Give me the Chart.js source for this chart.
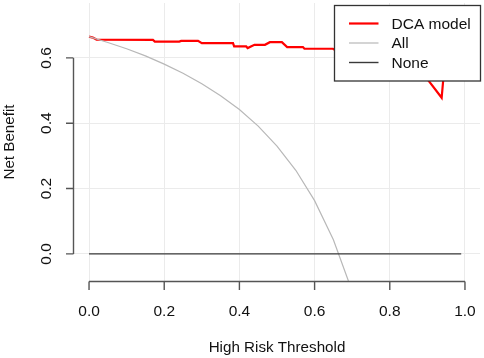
<!DOCTYPE html>
<html><head><meta charset="utf-8">
<script src="https://cdn.jsdelivr.net/npm/chart.js@4/dist/chart.umd.min.js"></script>
<style>html,body{margin:0;padding:0;background:#fff;overflow:hidden}</style>
</head><body>
<canvas id="c" width="484" height="358" style="display:block;width:484px;height:358px"></canvas>
<script>
const xTicks = [0, 0.2, 0.4, 0.6, 0.8, 1.0];
const yTicks = [0, 0.2, 0.4, 0.6];
const seriesNames = ['DCA model', 'All', 'None'];
const xTitle = 'High Risk Threshold';
const yTitle = 'Net Benefit';

const modelThreshold = [0.000, 0.010, 0.020, 0.170, 0.175, 0.240, 0.245, 0.290, 0.300, 0.310, 0.383, 0.386, 0.418, 0.422, 0.440, 0.468, 0.481, 0.513, 0.527, 0.569, 0.573, 0.649, 0.655, 0.700, 0.750, 0.800, 0.840, 0.870, 0.900, 0.938, 0.942, 0.950];
const modelNetBenefit = [0.665, 0.662, 0.656, 0.655, 0.650, 0.650, 0.652, 0.652, 0.645, 0.645, 0.645, 0.635, 0.635, 0.630, 0.640, 0.640, 0.648, 0.648, 0.633, 0.633, 0.628, 0.628, 0.624, 0.623, 0.621, 0.617, 0.605, 0.585, 0.535, 0.478, 0.530, 0.600];

const allThreshold = [0.00, 0.05, 0.10, 0.15, 0.20, 0.25, 0.30, 0.35, 0.40, 0.45, 0.50, 0.55, 0.60, 0.65, 0.69];
const allNetBenefit = [0.665, 0.647, 0.628, 0.606, 0.581, 0.553, 0.521, 0.484, 0.442, 0.391, 0.330, 0.256, 0.163, 0.043, -0.083];

const noneThreshold = [0.00, 0.99];
const noneNetBenefit = [0, 0];

const colors = ['#ff0000', '#b8b8b8', '#3a3a3a'];
const widths = [2.2, 1.2, 1.4];

function pts(xs, ys) { return xs.map((x, i) => ({x: x, y: ys[i]})); }

const FONT = '"Liberation Sans", Arial, sans-serif';
const TXT = '#111111';
const AXC = '#555555';

const rAxes = {
  id: 'rAxes',
  afterDraw(chart) {
    const ctx = chart.ctx, xs = chart.scales.x, ys = chart.scales.y, ca = chart.chartArea;
    ctx.save();
    ctx.strokeStyle = AXC; ctx.lineWidth = 1.4; ctx.lineCap = 'butt';
    // y axis
    const ax = ca.left - 0.5;
    ctx.beginPath();
    ctx.moveTo(ax, ys.getPixelForValue(yTicks[0]));
    ctx.lineTo(ax, ys.getPixelForValue(yTicks[yTicks.length - 1]));
    yTicks.forEach(v => { const p = ys.getPixelForValue(v); ctx.moveTo(ax, p); ctx.lineTo(ax - 7.5, p); });
    ctx.stroke();
    // x axis
    const ay = ca.bottom + 0.5;
    ctx.beginPath();
    ctx.moveTo(xs.getPixelForValue(xTicks[0]), ay);
    ctx.lineTo(xs.getPixelForValue(xTicks[xTicks.length - 1]), ay);
    xTicks.forEach(v => { const p = xs.getPixelForValue(v); ctx.moveTo(p, ay); ctx.lineTo(p, ay + 8.5); });
    ctx.stroke();
    // y tick labels (rotated, R style)
    ctx.fillStyle = TXT; ctx.font = '15.5px ' + FONT; ctx.textAlign = 'center'; ctx.textBaseline = 'middle';
    yTicks.forEach(v => {
      const p = ys.getPixelForValue(v);
      ctx.save(); ctx.translate(46.5, p); ctx.rotate(-Math.PI / 2); ctx.fillText(v.toFixed(1), 0, 0); ctx.restore();
    });
    // legend
    const lx = 334.5, ly = 5.5, lw = 146, lh = 75.5;
    ctx.fillStyle = '#ffffff'; ctx.fillRect(lx, ly, lw, lh);
    ctx.strokeStyle = '#333333'; ctx.lineWidth = 1.3; ctx.strokeRect(lx, ly, lw, lh);
    const rows = [23.5, 43, 62.5];
    chart.data.datasets.forEach((ds, i) => {
      ctx.strokeStyle = ds.borderColor; ctx.lineWidth = ds.borderWidth;
      ctx.beginPath(); ctx.moveTo(349, rows[i]); ctx.lineTo(378.5, rows[i]); ctx.stroke();
      ctx.fillStyle = TXT; ctx.textAlign = 'left'; ctx.textBaseline = 'middle'; ctx.font = '15.5px ' + FONT;
      ctx.fillText(ds.label, 391.5, rows[i] + 1);
    });
    ctx.restore();
  }
};

function noEdgePad(s) { s.paddingLeft = 0; s.paddingRight = 0; s.paddingTop = 0; s.paddingBottom = 0; }

new Chart(document.getElementById('c'), {
  type: 'line',
  data: {
    datasets: [
      {label: seriesNames[0], data: pts(modelThreshold, modelNetBenefit), borderColor: colors[0], borderWidth: widths[0], pointRadius: 0, tension: 0, fill: false, order: 2},
      {label: seriesNames[1], data: pts(allThreshold, allNetBenefit), borderColor: colors[1], borderWidth: widths[1], pointRadius: 0, tension: 0, fill: false, order: 1},
      {label: seriesNames[2], data: pts(noneThreshold, noneNetBenefit), borderColor: colors[2], borderWidth: widths[2], pointRadius: 0, tension: 0, fill: false, order: 0}
    ]
  },
  options: {
    responsive: false,
    devicePixelRatio: 1,
    animation: false,
    layout: {padding: {top: 3, right: 4, left: 0, bottom: 0}},
    plugins: {legend: {display: false}, tooltip: {enabled: false}},
    scales: {
      x: {
        type: 'linear', min: -0.04, max: 1.04,
        afterBuildTicks: s => { s.ticks = xTicks.map(v => ({value: v})); },
        afterFit: s => { s.height = 77; noEdgePad(s); },
        grid: {color: '#ebebeb', lineWidth: 1, drawTicks: false},
        border: {display: false},
        ticks: {callback: v => Number(v).toFixed(1), font: {family: FONT, size: 15.5}, color: TXT, padding: 21, maxRotation: 0, autoSkip: false},
        title: {display: true, text: xTitle, font: {family: FONT, size: 15.2}, color: TXT, padding: {top: 0, bottom: 1}}
      },
      y: {
        type: 'linear', min: -0.083, max: 0.768,
        afterBuildTicks: s => { s.ticks = yTicks.map(v => ({value: v})); },
        afterFit: s => { s.width = 74; noEdgePad(s); },
        grid: {color: '#ebebeb', lineWidth: 1, drawTicks: false},
        border: {display: false},
        ticks: {display: false},
        title: {display: true, text: yTitle, font: {family: FONT, size: 15.2}, color: TXT, padding: {top: 1, bottom: 0}}
      }
    }
  },
  plugins: [rAxes]
});
</script>
</body></html>
